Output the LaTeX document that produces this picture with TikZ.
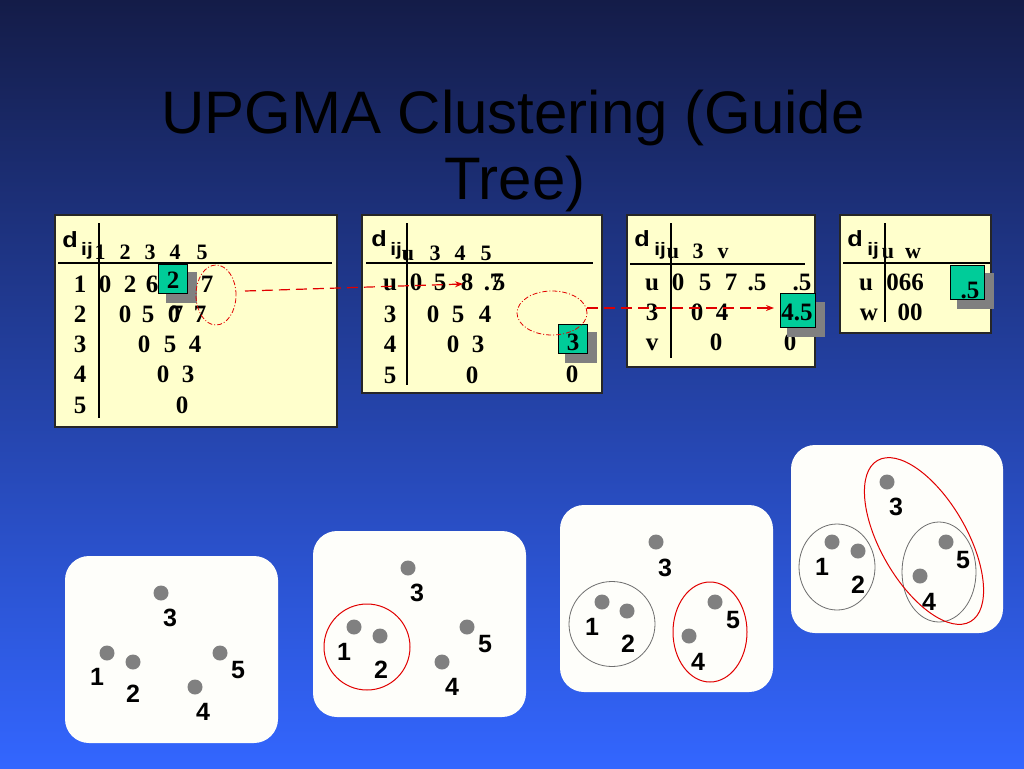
\documentclass[tikz,border=0pt]{standalone}
\usepackage{fontspec}
\setmainfont{Liberation Serif}
\newfontfamily\arsf{Liberation Sans}
\newfontfamily\arsw[FakeStretch=1.15]{Liberation Sans}
\usetikzlibrary{arrows.meta}
\definecolor{bgtop}{RGB}{20,28,72}
\definecolor{bgbot}{RGB}{51,102,255}
\definecolor{tblfill}{RGB}{255,255,204}
\definecolor{gboxc}{RGB}{0,204,153}
\definecolor{shadowc}{RGB}{128,128,128}
\definecolor{dotc}{RGB}{128,128,128}
\definecolor{redc}{RGB}{225,0,0}
\definecolor{grayline}{RGB}{110,110,110}
\definecolor{panelc}{RGB}{254,254,250}
\tikzset{
  title/.style={font=\arsf\fontsize{60}{60}\selectfont, text=black, inner sep=0pt, anchor=base},
  tbl/.style={fill=tblfill, draw=black!85, line width=1.2pt},
  rulel/.style={line width=2.6pt, black},
  tb/.style={font=\bfseries\fontsize{25}{25}\selectfont, inner sep=0pt, anchor=base},
  th/.style={font=\bfseries\fontsize{22}{22}\selectfont, inner sep=0pt, anchor=base},
  dlet/.style={font=\arsw\bfseries\fontsize{22}{22}\selectfont, inner sep=0pt, anchor=base},
  ijlet/.style={font=\arsw\bfseries\fontsize{18}{18}\selectfont, inner sep=0pt, anchor=base},
  shadowbox/.style={fill=shadowc},
  gbox/.style={fill=gboxc, draw=black, line width=0.8pt},
  dashdotell/.style={draw=redc, line width=0.8pt, dash pattern=on 5pt off 2pt on 1pt off 2pt},
  redarrow/.style={draw=redc, line width=1.2pt, dash pattern=on 11pt off 6pt, -{Stealth[length=8pt,width=6pt]}},
  panel/.style={fill=panelc, rounded corners=24pt},
  dotn/.style={circle, fill=dotc, minimum size=15pt, inner sep=0pt},
  lab/.style={font=\arsf\bfseries\fontsize{25}{25}\selectfont, inner sep=0pt},
  redcirc/.style={draw=redc, line width=1pt},
  graycirc/.style={draw=grayline, line width=0.8pt},
}
\begin{document}
\begin{tikzpicture}[x=1pt,y=-1pt]
\useasboundingbox (0,0) rectangle (1024,768);
\shade[top color=bgtop,bottom color=bgbot] (0,0) rectangle (1024,768);

% Title
\node[title] (t1) at (513,133) {UPGMA Clustering (Guide};
\node[title] (t2) at (515,199) {Tree)};

% ---------------- Table 1
\draw[tbl] (55,215) rectangle (337,427);
\node[dlet] (d1) at (70,247) {d};
\node[ijlet] (ij1) at (87,255) {ij};
\foreach \x/\t [count=\i] in {100/1,125/2,150/3,175/4,202/5} \node[th] (h1\i) at (\x,259) {\t};
\foreach \y/\t [count=\i] in {292/1,322/2,352/3,382/4,413/5} \node[tb] (r1\i) at (80,\y) {\t};
\foreach \x/\t [count=\i] in {105/0,130/2,152/6,207/7} \node[tb] (a1\i) at (\x,292) {\t};
\foreach \x/\t [count=\i] in {125/0,148/5,174/0,177/7,200/7} \node[tb] (b1\i) at (\x,322) {\t};
\foreach \x/\t [count=\i] in {144/0,170/5,195/4} \node[tb] (c1\i) at (\x,352) {\t};
\foreach \x/\t [count=\i] in {163/0,188/3} \node[tb] (e1\i) at (\x,382) {\t};
\node[tb] (f11) at (182,413) {0};
\draw[rulel] (99,223) -- (99,418);
\draw[rulel] (58,263) -- (332,263);
\fill[shadowbox] (166,272) rectangle (197,303);
\draw[gbox] (158,264) rectangle (187,293);
\node[tb] (g1) at (173,288) {2};
\draw[dashdotell] (216,295) ellipse [x radius=20pt, y radius=30pt];

% ---------------- Table 2
\draw[tbl] (362,215) rectangle (602,393);
\node[dlet] (d2) at (379,246) {d};
\node[ijlet] (ij2) at (396,255) {ij};
\foreach \x/\t [count=\i] in {408/u,435/3,460/4,486/5} \node[th] (h2\i) at (\x,260) {\t};
\foreach \y/\t [count=\i] in {290/u,322/3,352/4,383/5} \node[tb] (r2\i) at (390,\y) {\t};
\foreach \x/\t [count=\i] in {416/0,440/5,467/8,487/.,496/7,499/5} \node[tb] (a2\i) at (\x,290) {\t};
\foreach \x/\t [count=\i] in {433/0,458/5,485/4} \node[tb] (b2\i) at (\x,322) {\t};
\foreach \x/\t [count=\i] in {453/0,478/3} \node[tb] (c2\i) at (\x,352) {\t};
\node[tb] (e21) at (472,383) {0};
\node[tb] (e22) at (572,382) {0};
\draw[rulel] (407,223) -- (407,385);
\draw[rulel] (366,263) -- (593,263);
\fill[shadowbox] (565,332) rectangle (597,363);
\draw[gbox] (558,324) rectangle (587,353);
\node[tb] (g2) at (573,350) {3};
\draw[dashdotell] (552,313) ellipse [x radius=35pt, y radius=22pt];

% ---------------- Table 3
\draw[tbl] (627,215) rectangle (815,367);
\node[dlet] (d3) at (642,246) {d};
\node[ijlet] (ij3) at (660,255) {ij};
\foreach \x/\t [count=\i] in {673/u,698/3,723/v} \node[th] (h3\i) at (\x,258) {\t};
\foreach \y/\t [count=\i] in {290/u,320/3,350/v} \node[tb] (r3\i) at (652,\y) {\t};
\foreach \x/\t [count=\i] in {678/0,705/5,731/7,757/.5,802/.5} \node[tb] (a3\i) at (\x,290) {\t};
\foreach \x/\t [count=\i] in {697/0,722/4} \node[tb] (b3\i) at (\x,320) {\t};
\foreach \x/\t [count=\i] in {716/0,790/0} \node[tb] (c3\i) at (\x,350) {\t};
\draw[rulel] (671,223) -- (671,358);
\draw[rulel] (630,264) -- (805,264);
\fill[shadowbox] (787,302) rectangle (825,337);
\draw[gbox] (780,293) rectangle (815,327);
\node[tb] (g3) at (797,320) {4.5};

% ---------------- Table 4
\draw[tbl] (840,215) rectangle (991,333);
\node[dlet] (d4) at (855,246) {d};
\node[ijlet] (ij4) at (873,255) {ij};
\foreach \x/\t [count=\i] in {888/u,913/w} \node[th] (h4\i) at (\x,258) {\t};
\node[tb] (r41) at (866,290) {u};
\node[tb] (r42) at (869,320) {w};
\node[tb] (a41) at (905,290) {066};
\node[tb] (b41) at (910,320) {00};
\draw[rulel] (885,223) -- (885,322);
\draw[rulel] (843,263) -- (990,263);
\fill[shadowbox] (957,273) rectangle (994,309);
\draw[gbox] (950,265) rectangle (984,299);
\node[tb] (g4) at (970,298) {.5};

% Arrows
\coordinate (a1s) at (245,291);
\coordinate (a1e) at (463,284);
\draw[redarrow] (a1s) -- (a1e);
\coordinate (a2s) at (587,308);
\coordinate (a2e) at (774,308);
\draw[redarrow] (a2s) -- (a2e);

% ---------------- Panels
\fill[panel] (65,556) rectangle (278,743);
\fill[panel] (313,531) rectangle (526,717);
\fill[panel] (560,505) rectangle (773,692);
\fill[panel] (791,445) rectangle (1003,633);

% Panel 1
\node[dotn] (p1d3) at (161,593) {};
\node[dotn] (p1d1) at (107,653) {};
\node[dotn] (p1d2) at (133,662) {};
\node[dotn] (p1d5) at (220,653) {};
\node[dotn] (p1d4) at (195,687) {};
\node[lab] (p1l3) at (170,618) {3};
\node[lab] (p1l1) at (97,677) {1};
\node[lab] (p1l2) at (133,694) {2};
\node[lab] (p1l5) at (238,670) {5};
\node[lab] (p1l4) at (203,712) {4};

% Panel 2
\node[dotn] (p2d3) at (408,568) {};
\node[dotn] (p2d1) at (354,627) {};
\node[dotn] (p2d2) at (380,636) {};
\node[dotn] (p2d5) at (467,627) {};
\node[dotn] (p2d4) at (442,662) {};
\node[lab] (p2l3) at (417,593) {3};
\node[lab] (p2l1) at (344,652) {1};
\node[lab] (p2l2) at (381,670) {2};
\node[lab] (p2l5) at (485,644) {5};
\node[lab] (p2l4) at (452,687) {4};
\draw[redcirc] (367,647) circle [radius=43pt];

% Panel 3
\node[dotn] (p3d3) at (656,542) {};
\node[dotn] (p3d1) at (602,602) {};
\node[dotn] (p3d2) at (627,611) {};
\node[dotn] (p3d5) at (715,602) {};
\node[dotn] (p3d4) at (689,636) {};
\node[lab] (p3l3) at (665,568) {3};
\node[lab] (p3l1) at (592,627) {1};
\node[lab] (p3l2) at (628,644) {2};
\node[lab] (p3l5) at (733,620) {5};
\node[lab] (p3l4) at (698,662) {4};
\draw[graycirc] (612,624) ellipse [x radius=43pt, y radius=42.5pt];
\draw[redcirc] (710,632) ellipse [x radius=37pt, y radius=50pt];

% Panel 4
\node[dotn] (p4d3) at (887,482) {};
\node[dotn] (p4d1) at (832,542) {};
\node[dotn] (p4d2) at (858,551) {};
\node[dotn] (p4d5) at (946,542) {};
\node[dotn] (p4d4) at (920,576) {};
\node[lab] (p4l3) at (896,507) {3};
\node[lab] (p4l1) at (822,567) {1};
\node[lab] (p4l2) at (858,585) {2};
\node[lab] (p4l5) at (963,560) {5};
\node[lab] (p4l4) at (929,602) {4};
\draw[graycirc] (837,567) ellipse [x radius=38pt, y radius=43pt];
\draw[graycirc] (939,572) ellipse [x radius=37pt, y radius=50pt];
\begin{scope}[shift={(924,541)}, rotate=-60]
\draw[redcirc] (0,0) ellipse [x radius=93pt, y radius=43pt];
\end{scope}
\end{tikzpicture}
\end{document}
